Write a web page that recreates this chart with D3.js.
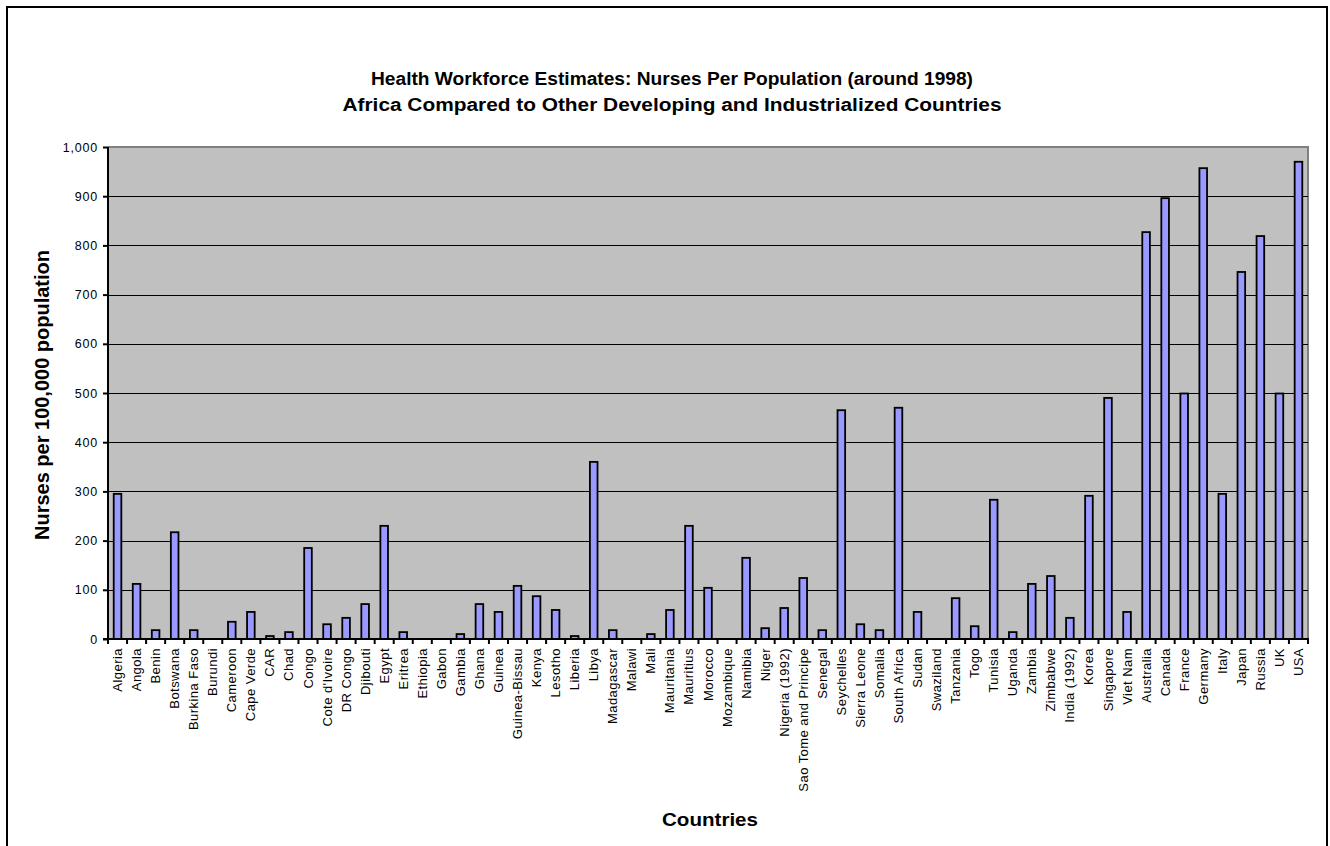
<!DOCTYPE html>
<html>
<head>
<meta charset="utf-8">
<script src="https://cdn.jsdelivr.net/npm/d3@7"></script>
<style>
  html, body { margin: 0; padding: 0; background: #fff; }
  svg { display: block; font-family: Arial, "Liberation Sans", sans-serif; }
</style>
</head>
<body>
<svg id="chart" width="1330" height="846"></svg>
<script>
// Nurses per 100,000 population, around 1998
const countries = [
  "Algeria", "Angola", "Benin", "Botswana", "Burkina Faso", "Burundi", "Cameroon",
  "Cape Verde", "CAR", "Chad", "Congo", "Cote d'Ivoire", "DR Congo", "Djibouti",
  "Egypt", "Eritrea", "Ethiopia", "Gabon", "Gambia", "Ghana", "Guinea",
  "Guinea-Bissau", "Kenya", "Lesotho", "Liberia", "Libya", "Madagascar", "Malawi",
  "Mali", "Mauritania", "Mauritius", "Morocco", "Mozambique", "Namibia", "Niger",
  "Nigeria (1992)", "Sao Tome and Principe", "Senegal", "Seychelles", "Sierra Leone",
  "Somalia", "South Africa", "Sudan", "Swaziland", "Tanzania", "Togo", "Tunisia",
  "Uganda", "Zambia", "Zimbabwe", "India (1992)", "Korea", "Singapore", "Viet Nam",
  "Australia", "Canada", "France", "Germany", "Italy", "Japan", "Russia", "UK", "USA"
];
const nurses = [
  295, 112, 18, 217, 18, 0, 35,
  55, 6, 14, 185, 30, 43, 71,
  230, 14, 0, 0, 10, 71, 55,
  108, 87, 59, 6, 360, 18, 0,
  10, 59, 230, 104, 0, 165, 22,
  63, 124, 18, 465, 30,
  18, 470, 55, 0, 83, 26, 283,
  14, 112, 128, 43, 291, 490, 55,
  827, 896, 499, 957, 295, 746, 819, 499, 970
];
const yTicks = [0, 100, 200, 300, 400, 500, 600, 700, 800, 900, 1000];

const titleLines = [
  "Health Workforce Estimates: Nurses Per Population (around 1998)",
  "Africa Compared to Other Developing and Industrialized Countries"
];
const titleWidths = [602, 659];

const svg = d3.select("#chart");
const W = 1330, H = 846;
const plot = { left: 108, right: 1308, top: 147, bottom: 639 };
const labelFont = "Arial, 'Liberation Sans', sans-serif";

// outer chart frame
svg.append("rect")
  .attr("x", 7).attr("y", 7).attr("width", 1320).attr("height", H + 10)
  .attr("fill", "#fff").attr("stroke", "#000").attr("stroke-width", 2);

const band = d3.scaleBand().domain(countries).range([plot.left, plot.right]);
const y = d3.scaleLinear().domain([0, 1000]).range([plot.bottom, plot.top]);

// plot background
svg.append("rect")
  .attr("x", plot.left).attr("y", plot.top)
  .attr("width", plot.right - plot.left).attr("height", plot.bottom - plot.top)
  .attr("fill", "#c0c0c0");
// grey frame on top and right of plot
svg.append("path")
  .attr("d", `M${plot.left},${plot.top}H${plot.right}V${plot.bottom}`)
  .attr("fill", "none").attr("stroke", "#808080").attr("stroke-width", 2);

// horizontal gridlines
svg.append("g")
  .selectAll("line")
  .data(yTicks.filter(t => t > 0 && t < 1000))
  .join("line")
  .attr("x1", plot.left).attr("x2", plot.right)
  .attr("y1", d => Math.round(y(d)) + 0.5).attr("y2", d => Math.round(y(d)) + 0.5)
  .attr("stroke", "#000").attr("stroke-width", 1);

// bars (gap width 150% of bar width)
const bw = band.bandwidth() / 2.5;
svg.append("g")
  .selectAll("rect")
  .data(countries.map((c, i) => ({ c, v: nurses[i] })).filter(d => d.v > 0))
  .join("rect")
  .attr("x", d => band(d.c) + (band.bandwidth() - bw) / 2)
  .attr("y", d => y(d.v))
  .attr("width", bw)
  .attr("height", d => y(0) - y(d.v))
  .attr("fill", "#9999ff")
  .attr("stroke", "#000")
  .attr("stroke-width", 1.8);

// y axis
const yAxis = d3.axisLeft(y)
  .tickValues(yTicks)
  .tickFormat(d3.format(","))
  .tickSize(5)
  .tickPadding(5);
const gy = svg.append("g").attr("transform", `translate(${plot.left},0)`).call(yAxis);
gy.select(".domain").attr("stroke", "#000").attr("stroke-width", 2).attr("d", `M0,${plot.top}V${plot.bottom}`);
gy.selectAll(".tick line").attr("stroke", "#000").attr("stroke-width", 2);
gy.selectAll(".tick text")
  .attr("font-size", 12.5)
  .attr("letter-spacing", 0.8)
  .attr("fill", "#000")
  .attr("font-family", labelFont);

// x axis with category separators
const gx = svg.append("g").attr("transform", `translate(0,${plot.bottom})`);
gx.append("line")
  .attr("x1", plot.left - 5).attr("x2", plot.right + 1)
  .attr("y1", 0).attr("y2", 0)
  .attr("stroke", "#000").attr("stroke-width", 2);
gx.selectAll("line.sep")
  .data(d3.range(countries.length + 1))
  .join("line")
  .attr("class", "sep")
  .attr("x1", i => plot.left + i * band.step())
  .attr("x2", i => plot.left + i * band.step())
  .attr("y1", 0).attr("y2", 5)
  .attr("stroke", "#000").attr("stroke-width", 2);
gx.selectAll("text")
  .data(countries)
  .join("text")
  .attr("transform", d => `translate(${band(d) + band.bandwidth() / 2 + 4.5},9) rotate(-90)`)
  .attr("text-anchor", "end")
  .attr("font-size", 13)
  .attr("letter-spacing", 0.45)
  .attr("fill", "#000")
  .text(d => d);

// titles
svg.append("g")
  .selectAll("text")
  .data(titleLines)
  .join("text")
  .attr("x", (d, i) => 672 - titleWidths[i] / 2)
  .attr("y", (d, i) => 85 + i * 26)
  .attr("font-size", 17.5)
  .attr("font-weight", "bold")
  .attr("textLength", (d, i) => titleWidths[i])
  .attr("lengthAdjust", "spacingAndGlyphs")
  .text(d => d);

svg.append("text")
  .attr("transform", `translate(49,395) rotate(-90)`)
  .attr("x", -145)
  .attr("font-size", 19.5)
  .attr("font-weight", "bold")
  .attr("textLength", 290)
  .attr("lengthAdjust", "spacingAndGlyphs")
  .text("Nurses per 100,000 population");

svg.append("text")
  .attr("x", 710 - 48)
  .attr("y", 826)
  .attr("font-size", 18)
  .attr("font-weight", "bold")
  .attr("textLength", 96)
  .attr("lengthAdjust", "spacingAndGlyphs")
  .text("Countries");
</script>
</body>
</html>
